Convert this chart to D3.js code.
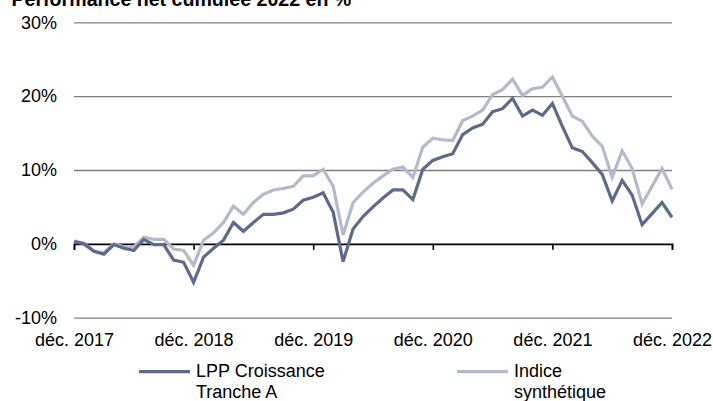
<!DOCTYPE html>
<html>
<head>
<meta charset="utf-8">
<script src="https://cdn.jsdelivr.net/npm/d3@7"></script>
<style>
  html, body { margin: 0; padding: 0; background: #fff; }
  svg { display: block; font-family: "Liberation Sans", Arial, sans-serif; }
</style>
</head>
<body>
<svg id="chart" width="713" height="401"></svg>
<script>
// Monthly observations, Dec 2017 – Dec 2022
const months = [
  "2017-12",
  "2018-01","2018-02","2018-03","2018-04","2018-05","2018-06","2018-07","2018-08","2018-09","2018-10","2018-11","2018-12",
  "2019-01","2019-02","2019-03","2019-04","2019-05","2019-06","2019-07","2019-08","2019-09","2019-10","2019-11","2019-12",
  "2020-01","2020-02","2020-03","2020-04","2020-05","2020-06","2020-07","2020-08","2020-09","2020-10","2020-11","2020-12",
  "2021-01","2021-02","2021-03","2021-04","2021-05","2021-06","2021-07","2021-08","2021-09","2021-10","2021-11","2021-12",
  "2022-01","2022-02","2022-03","2022-04","2022-05","2022-06","2022-07","2022-08","2022-09","2022-10","2022-11","2022-12"
];

// Cumulative net performance, %
const fundValues = [
  0.3,
  0.0, -1.0, -1.4, -0.1, -0.6, -0.9, 0.6, -0.1, -0.1, -2.2, -2.5, -5.2,
  -1.8, -0.6, 0.5, 2.9, 1.7, 2.9, 4.0, 4.0, 4.2, 4.7, 5.9, 6.3,
  6.9, 4.3, -2.4, 2.0, 3.7, 5.0, 6.2, 7.3, 7.3, 6.0, 10.1, 11.3,
  11.8, 12.2, 14.8, 15.7, 16.2, 17.9, 18.3, 19.7, 17.3, 18.1, 17.4, 19.0,
  15.9, 13.0, 12.5, 11.0, 9.4, 5.8, 8.6, 6.6, 2.6, 4.1, 5.6, 3.6
];

const indexValues = [
  0.4,
  0.1, -1.0, -1.2, 0.0, -0.4, -0.4, 0.9, 0.6, 0.6, -0.7, -0.9, -2.9,
  0.5, 1.5, 2.9, 5.1, 4.0, 5.6, 6.7, 7.3, 7.5, 7.8, 9.2, 9.2,
  10.1, 7.8, 1.2, 5.6, 7.0, 8.2, 9.2, 10.1, 10.4, 9.0, 13.1, 14.3,
  14.1, 14.0, 16.7, 17.3, 18.1, 20.2, 20.9, 22.3, 20.1, 21.0, 21.2, 22.6,
  20.0, 17.3, 16.6, 14.6, 13.2, 9.0, 12.6, 10.2, 5.4, 7.8, 10.2, 7.4
];

const seriesNames = [["LPP Croissance", "Tranche A"], ["Indice", "synthétique"]];
const seriesColors = ["#5c6b8b", "#b2bbca"];

const yTicks = [-10, 0, 10, 20, 30];
const xTickMonths = ["2017-12", "2018-12", "2019-12", "2020-12", "2021-12", "2022-12"];
const xTickLabels = ["déc. 2017", "déc. 2018", "déc. 2019", "déc. 2020", "déc. 2021", "déc. 2022"];

const titleText = "Performance net cumulée 2022 en %";

// ---- layout
const svg = d3.select("#chart");
const plot = { left: 74, right: 672, top: 22.3, bottom: 317.7 };

const x = d3.scaleLinear().domain([0, months.length - 1]).range([plot.left, plot.right]);
const y = d3.scaleLinear().domain([-10, 30]).range([plot.bottom, plot.top]);

// title (sits partly above the visible area)
svg.append("text")
  .attr("x", 11.5).attr("y", 5.5)
  .attr("font-size", 19.6).attr("font-weight", "bold").attr("fill", "#000")
  .text(titleText);

// horizontal gridlines + y labels
const yAxis = d3.axisLeft(y)
  .tickValues(yTicks)
  .tickSize(-(plot.right - plot.left))
  .tickPadding(17)
  .tickFormat(d => d + "%");

const gy = svg.append("g")
  .attr("transform", `translate(${plot.left},0)`)
  .call(yAxis);
gy.select(".domain").remove();
gy.selectAll(".tick line")
  .attr("stroke", "#808080").attr("stroke-width", 1.3)
  .filter(d => d === 0).remove();
gy.selectAll(".tick text")
  .attr("font-size", 18).attr("fill", "#000")
  .attr("font-family", "'Liberation Sans', Arial, sans-serif");

// zero line with year tick marks
const monthIndex = m => months.indexOf(m);
const xTickIdx = xTickMonths.map(monthIndex);

const zeroAxis = d3.axisBottom(x)
  .tickValues(xTickIdx)
  .tickSize(6)
  .tickFormat("");
const gz = svg.append("g")
  .attr("transform", `translate(0,${y(0)})`)
  .call(zeroAxis);
gz.select(".domain").attr("stroke", "#000").attr("stroke-width", 1.6);
gz.selectAll(".tick line").attr("stroke", "#000").attr("stroke-width", 1.6);

// category labels along the bottom
const labelAxis = d3.axisBottom(x)
  .tickValues(xTickIdx)
  .tickSize(0)
  .tickPadding(0)
  .tickFormat((d, i) => xTickLabels[i]);
const gl = svg.append("g")
  .attr("transform", `translate(0,${plot.bottom})`)
  .call(labelAxis);
gl.select(".domain").remove();
gl.selectAll(".tick text")
  .attr("font-size", 18).attr("fill", "#000")
  .attr("font-family", "'Liberation Sans', Arial, sans-serif")
  .attr("dy", null).attr("y", 28.5);

// series lines
const line = d3.line()
  .x((d, i) => x(i))
  .y(d => y(d));

[indexValues, fundValues].forEach((vals, k) => {
  const color = k === 0 ? seriesColors[1] : seriesColors[0];
  svg.append("path")
    .datum(vals)
    .attr("fill", "none")
    .attr("stroke", color)
    .attr("stroke-width", 3.2)
    .attr("stroke-linejoin", "miter")
    .attr("d", line);
});

// legend
const legendItems = [
  { x0: 139, x1: 190, tx: 196, names: seriesNames[0], color: seriesColors[0] },
  { x0: 457, x1: 508, tx: 514, names: seriesNames[1], color: seriesColors[1] }
];
const legend = svg.append("g");
legendItems.forEach(it => {
  legend.append("line")
    .attr("x1", it.x0).attr("x2", it.x1)
    .attr("y1", 371.7).attr("y2", 371.7)
    .attr("stroke", it.color).attr("stroke-width", 3.2);
  const t = legend.append("text")
    .attr("x", it.tx).attr("y", 377.3)
    .attr("font-size", 18).attr("fill", "#000");
  t.selectAll("tspan").data(it.names).join("tspan")
    .attr("x", it.tx)
    .attr("dy", (d, i) => i === 0 ? 0 : 20.3)
    .text(d => d);
});
</script>
</body>
</html>
